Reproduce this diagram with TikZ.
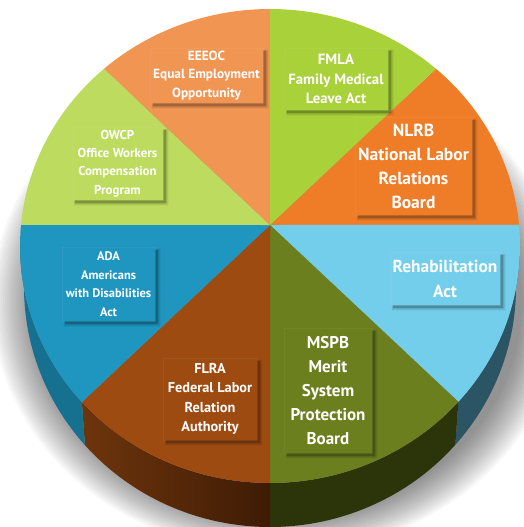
\documentclass[tikz,border=0pt]{standalone}
\usepackage{fontspec}
\setmainfont{PT Sans}
\usetikzlibrary{calc}
\definecolor{cEEEOC}{HTML}{F19553}
\definecolor{cFMLA}{HTML}{A9D13A}
\definecolor{cNLRB}{HTML}{EF7D27}
\definecolor{cRehab}{HTML}{73CEEC}
\definecolor{cMSPB}{HTML}{6B7F1E}
\definecolor{cFLRA}{HTML}{9E4B12}
\definecolor{cADA}{HTML}{1F96BF}
\definecolor{cOWCP}{HTML}{BDDB5E}
\definecolor{sADA}{HTML}{15718F}
\definecolor{sFLRAa}{HTML}{6E350C}
\definecolor{sFLRAb}{HTML}{3E1B05}
\definecolor{sMSPB}{HTML}{2C350A}
\definecolor{sRehab}{HTML}{2B5464}
\newcommand\mySlice[3]{\fill[#1] (270,225) -- plot[domain=#2:#3,samples=60] ({270+250*cos(\x)},{246+237*sin(\x)}) -- cycle;}
\newcommand\mySide[3]{plot[domain=#2:#3,samples=40] ({270+250*cos(\x)},{246+237*sin(\x)}) -- plot[domain=#3:#2,samples=40] ({270+246*cos(\x)},{287+240*sin(\x)}) -- cycle}
\newcommand\myShadow[1]{%
  \fill[bshadow] ($(#1.north east)+(0,3)$) -- ($(#1.north east)+(3,3)$) -- ($(#1.south east)+(3,3)$) -- ($(#1.south west)+(3,3)$) -- ($(#1.south west)+(3,0)$) -- (#1.south east) -- cycle;
  \fill[bshadow2] ($(#1.north east)+(0,2)$) -- ($(#1.north east)+(5,2)$) -- ($(#1.south east)+(5,5)$) -- ($(#1.south west)+(2,5)$) -- ($(#1.south west)+(2,0)$) -- (#1.south east) -- cycle;}
\tikzset{
  lbl/.style={text=white, align=center, inner sep=0pt, draw=white, draw opacity=0.05, line width=0.5pt},
  bshadow/.style={fill=black, fill opacity=0.25},
  bshadow2/.style={fill=black, fill opacity=0.1},
}
\begin{document}
\begin{tikzpicture}[x=1pt,y=-1pt]
\useasboundingbox (0,0) rectangle (524,527);
% soft shadow
\foreach \i in {0,...,19} {\fill[black,opacity=0.028] (278,302) ellipse [x radius={286-\i*2.2}, y radius={252-\i*1.8}];}
% sides
\fill[sRehab] \mySide{sRehab}{0}{41.1};
\fill[sMSPB] \mySide{sMSPB}{41.1}{90};
\shade[left color=sFLRAa, right color=sFLRAb] \mySide{x}{90}{138.8};
\fill[sADA] \mySide{sADA}{138.8}{180};
% top face
\mySlice{cNLRB}{311.6}{354.9}
\mySlice{cRehab}{354.9}{401.1}
\mySlice{cMSPB}{41.1}{90}
\mySlice{cFLRA}{90}{138.8}
\mySlice{cADA}{138.8}{185.1}
\mySlice{cOWCP}{185.1}{228.4}
\mySlice{cEEEOC}{228.4}{270}
\mySlice{cFMLA}{270}{311.6}
% labels
\node[lbl, minimum width=113pt, minimum height=55pt, font=\bfseries\fontsize{13.3}{18.5}\selectfont] (eeeoc) at (206.5,75.5) {EEEOC\\Equal Employment\\Opportunity};
\node[lbl, minimum width=104pt, minimum height=62pt, font=\bfseries\fontsize{14.8}{19.5}\selectfont] (fmla) at (336,79) {FMLA\\Family Medical\\Leave Act};
\node[lbl, minimum width=117pt, minimum height=98pt, font=\bfseries\fontsize{17.5}{24}\selectfont] (nlrb) at (413.5,166) {NLRB\\National Labor\\Relations\\Board};
\node[lbl, minimum width=91pt, minimum height=73pt, font=\bfseries\fontsize{12.9}{18.3}\selectfont] (owcp) at (117.5,163.5) {OWCP\\Office Workers\\Compensation\\Program};
\node[lbl, minimum width=93pt, minimum height=74pt, font=\bfseries\fontsize{12.4}{18.5}\selectfont] (ada) at (108.5,284) {ADA\\Americans\\with Disabilities\\Act};
\node[lbl, minimum width=94pt, minimum height=82pt, font=\bfseries\fontsize{14.3}{19.3}\selectfont] (flra) at (210,399) {FLRA\\Federal Labor\\Relation\\Authority};
\node[lbl, minimum width=88pt, minimum height=125pt, font=\bfseries\fontsize{17}{24}\selectfont] (mspb) at (328,390.5) {MSPB\\Merit\\System\\Protection\\Board};
\node[lbl, minimum width=110pt, minimum height=53pt, font=\bfseries\fontsize{17.4}{25}\selectfont] (rehab) at (445,278.5) {Rehabilitation\\Act};
\myShadow{eeeoc}
\myShadow{fmla}
\myShadow{nlrb}
\myShadow{owcp}
\myShadow{ada}
\myShadow{flra}
\myShadow{mspb}
\myShadow{rehab}
\end{tikzpicture}
\end{document}
